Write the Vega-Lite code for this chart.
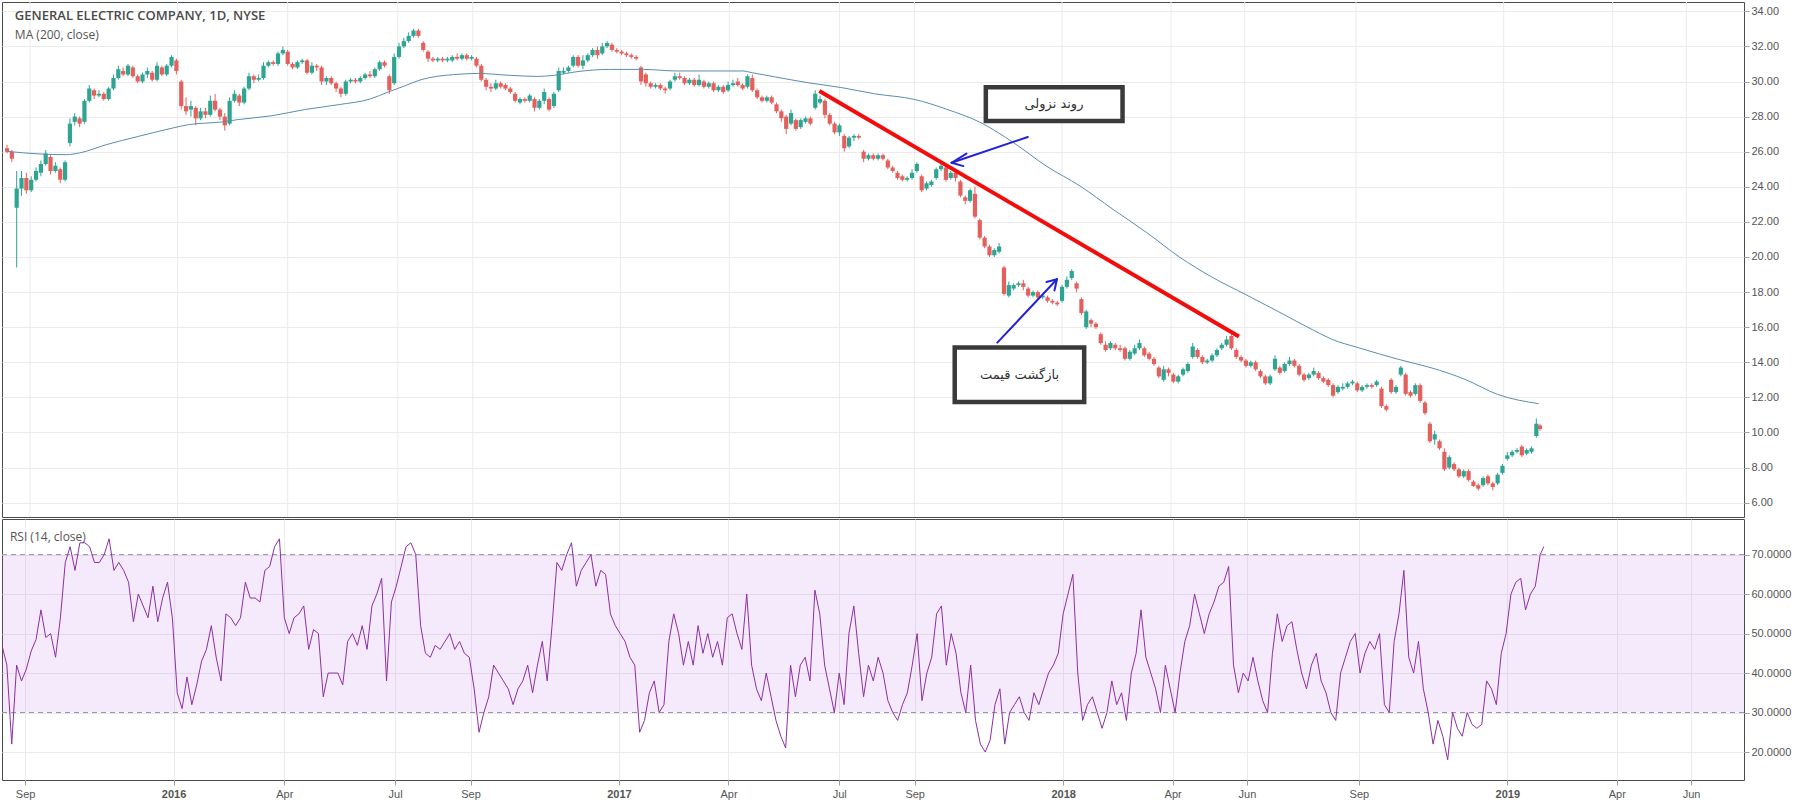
{
"$schema":"https://vega.github.io/schema/vega-lite/v6.json",
"padding":{"left":1,"top":1,"right":0,"bottom":0},
"background":"white",
"spacing":0,
"config":{"view":{"stroke":"#4a4a4a","strokeWidth":1},"axis":{"labelFont":"Liberation Sans","labelFontSize":11,"labelColor":"#555555","gridColor":"#ebebeb","tickColor":"#a0a0a0","tickSize":5,"domain":false}},
"datasets":{
"k":[
{"d":"2015-08-13","o":26.2,"h":26.4,"l":25.9,"c":26.0,"r":47},
{"d":"2015-08-17","o":26.0,"h":26.1,"l":25.4,"c":25.6,"r":42},
{"d":"2015-08-21","o":22.8,"h":24.9,"l":19.4,"c":23.9,"r":22},
{"d":"2015-08-25","o":23.9,"h":24.9,"l":23.5,"c":24.5,"r":42},
{"d":"2015-08-29","o":24.5,"h":24.8,"l":23.6,"c":23.8,"r":38},
{"d":"2015-09-02","o":23.8,"h":24.6,"l":23.7,"c":24.4,"r":41},
{"d":"2015-09-06","o":24.4,"h":25.1,"l":24.3,"c":24.9,"r":45.6},
{"d":"2015-09-10","o":24.8,"h":25.5,"l":24.6,"c":25.3,"r":48.5},
{"d":"2015-09-14","o":25.3,"h":26.1,"l":25.2,"c":25.9,"r":56},
{"d":"2015-09-18","o":25.7,"h":25.8,"l":24.7,"c":24.9,"r":49},
{"d":"2015-09-22","o":24.9,"h":25.4,"l":24.8,"c":25.2,"r":50},
{"d":"2015-09-26","o":25.0,"h":25.1,"l":24.2,"c":24.4,"r":44},
{"d":"2015-09-30","o":24.4,"h":25.5,"l":24.3,"c":25.4,"r":54},
{"d":"2015-10-04","o":26.5,"h":27.9,"l":26.3,"c":27.6,"r":68},
{"d":"2015-10-08","o":27.7,"h":28.2,"l":27.5,"c":28.0,"r":72},
{"d":"2015-10-12","o":27.9,"h":28.0,"l":27.4,"c":27.6,"r":66},
{"d":"2015-10-16","o":27.7,"h":29.0,"l":27.6,"c":28.9,"r":73},
{"d":"2015-10-20","o":28.9,"h":29.8,"l":28.8,"c":29.6,"r":73},
{"d":"2015-10-24","o":29.5,"h":29.6,"l":29.0,"c":29.2,"r":72},
{"d":"2015-10-28","o":29.2,"h":29.5,"l":29.1,"c":29.3,"r":68},
{"d":"2015-11-01","o":29.3,"h":29.4,"l":28.9,"c":29.0,"r":68},
{"d":"2015-11-05","o":29.0,"h":29.7,"l":28.9,"c":29.6,"r":70},
{"d":"2015-11-09","o":29.6,"h":30.4,"l":29.5,"c":30.2,"r":74},
{"d":"2015-11-13","o":30.2,"h":30.9,"l":30.1,"c":30.7,"r":66},
{"d":"2015-11-17","o":30.6,"h":30.8,"l":30.3,"c":30.4,"r":68},
{"d":"2015-11-21","o":30.4,"h":31.0,"l":30.3,"c":30.9,"r":66},
{"d":"2015-11-25","o":30.8,"h":30.9,"l":30.2,"c":30.3,"r":63},
{"d":"2015-11-29","o":30.3,"h":30.4,"l":29.9,"c":30.0,"r":53},
{"d":"2015-12-03","o":30.0,"h":30.5,"l":29.9,"c":30.4,"r":60},
{"d":"2015-12-07","o":30.4,"h":30.8,"l":30.2,"c":30.6,"r":57},
{"d":"2015-12-11","o":30.5,"h":30.6,"l":30.0,"c":30.1,"r":54},
{"d":"2015-12-15","o":30.1,"h":31.1,"l":30.0,"c":30.9,"r":62},
{"d":"2015-12-19","o":30.8,"h":30.9,"l":30.3,"c":30.4,"r":53},
{"d":"2015-12-23","o":30.4,"h":31.0,"l":30.3,"c":30.9,"r":59},
{"d":"2015-12-27","o":30.9,"h":31.5,"l":30.8,"c":31.4,"r":63},
{"d":"2015-12-31","o":31.2,"h":31.3,"l":30.4,"c":30.6,"r":54},
{"d":"2016-01-04","o":30.0,"h":30.1,"l":28.4,"c":28.6,"r":35},
{"d":"2016-01-08","o":28.6,"h":29.1,"l":28.1,"c":28.3,"r":31},
{"d":"2016-01-12","o":28.4,"h":28.9,"l":28.0,"c":28.6,"r":39},
{"d":"2016-01-16","o":28.5,"h":28.6,"l":27.5,"c":27.9,"r":32},
{"d":"2016-01-20","o":27.9,"h":28.5,"l":27.8,"c":28.3,"r":37},
{"d":"2016-01-24","o":28.3,"h":28.5,"l":27.9,"c":28.1,"r":43},
{"d":"2016-01-28","o":28.1,"h":29.2,"l":28.0,"c":28.9,"r":46},
{"d":"2016-02-01","o":28.9,"h":29.3,"l":28.3,"c":28.4,"r":52},
{"d":"2016-02-05","o":28.4,"h":28.5,"l":27.8,"c":28.0,"r":44},
{"d":"2016-02-09","o":28.0,"h":28.2,"l":27.2,"c":27.5,"r":38},
{"d":"2016-02-13","o":27.6,"h":29.1,"l":27.5,"c":28.9,"r":55},
{"d":"2016-02-17","o":28.9,"h":29.5,"l":28.8,"c":29.3,"r":54},
{"d":"2016-02-21","o":29.2,"h":29.3,"l":28.6,"c":28.8,"r":52},
{"d":"2016-02-25","o":28.8,"h":29.7,"l":28.7,"c":29.6,"r":54},
{"d":"2016-02-29","o":29.6,"h":30.5,"l":29.5,"c":30.3,"r":63},
{"d":"2016-03-04","o":30.3,"h":30.4,"l":29.9,"c":30.1,"r":59},
{"d":"2016-03-08","o":30.1,"h":30.4,"l":30.0,"c":30.2,"r":59},
{"d":"2016-03-12","o":30.2,"h":31.1,"l":30.1,"c":30.9,"r":58},
{"d":"2016-03-16","o":30.9,"h":31.2,"l":30.8,"c":31.1,"r":66},
{"d":"2016-03-20","o":31.1,"h":31.2,"l":30.9,"c":31.0,"r":67},
{"d":"2016-03-24","o":31.0,"h":31.7,"l":30.9,"c":31.6,"r":72},
{"d":"2016-03-28","o":31.6,"h":32.0,"l":31.5,"c":31.8,"r":74},
{"d":"2016-04-01","o":31.7,"h":31.8,"l":30.9,"c":31.0,"r":54},
{"d":"2016-04-05","o":31.0,"h":31.1,"l":30.7,"c":30.8,"r":50},
{"d":"2016-04-09","o":30.8,"h":31.2,"l":30.7,"c":31.1,"r":54},
{"d":"2016-04-13","o":31.1,"h":31.3,"l":31.0,"c":31.2,"r":55},
{"d":"2016-04-17","o":31.2,"h":31.3,"l":30.4,"c":30.5,"r":57},
{"d":"2016-04-21","o":30.5,"h":31.1,"l":30.4,"c":30.9,"r":46},
{"d":"2016-04-25","o":30.9,"h":31.0,"l":30.6,"c":30.8,"r":51},
{"d":"2016-04-29","o":30.8,"h":30.9,"l":29.8,"c":30.0,"r":50},
{"d":"2016-05-03","o":30.0,"h":30.3,"l":29.8,"c":30.2,"r":34},
{"d":"2016-05-07","o":30.2,"h":30.3,"l":29.8,"c":29.9,"r":40},
{"d":"2016-05-11","o":29.9,"h":30.0,"l":29.4,"c":29.6,"r":40},
{"d":"2016-05-15","o":29.6,"h":29.7,"l":29.1,"c":29.3,"r":40},
{"d":"2016-05-19","o":29.3,"h":30.1,"l":29.2,"c":30.0,"r":37},
{"d":"2016-05-23","o":30.0,"h":30.2,"l":29.9,"c":30.1,"r":48},
{"d":"2016-05-27","o":30.1,"h":30.2,"l":29.9,"c":30.0,"r":50},
{"d":"2016-05-31","o":30.0,"h":30.3,"l":29.9,"c":30.2,"r":47},
{"d":"2016-06-04","o":30.2,"h":30.5,"l":30.1,"c":30.4,"r":52},
{"d":"2016-06-08","o":30.4,"h":30.6,"l":30.2,"c":30.3,"r":46},
{"d":"2016-06-12","o":30.3,"h":30.8,"l":30.2,"c":30.7,"r":57},
{"d":"2016-06-16","o":30.7,"h":31.2,"l":30.6,"c":31.1,"r":60},
{"d":"2016-06-20","o":31.1,"h":31.2,"l":30.8,"c":30.9,"r":64},
{"d":"2016-06-24","o":30.3,"h":30.4,"l":29.3,"c":29.5,"r":38},
{"d":"2016-06-28","o":29.9,"h":31.6,"l":29.8,"c":31.4,"r":58},
{"d":"2016-07-02","o":31.4,"h":32.2,"l":31.3,"c":32.0,"r":62},
{"d":"2016-07-06","o":32.0,"h":32.5,"l":31.9,"c":32.3,"r":67},
{"d":"2016-07-10","o":32.3,"h":32.8,"l":32.2,"c":32.6,"r":72},
{"d":"2016-07-14","o":32.6,"h":33.0,"l":32.5,"c":32.9,"r":73},
{"d":"2016-07-18","o":32.9,"h":33.0,"l":32.5,"c":32.6,"r":70},
{"d":"2016-07-22","o":32.2,"h":32.3,"l":31.7,"c":31.8,"r":52},
{"d":"2016-07-26","o":31.7,"h":31.8,"l":31.1,"c":31.3,"r":45},
{"d":"2016-07-30","o":31.3,"h":31.4,"l":31.1,"c":31.2,"r":44},
{"d":"2016-08-03","o":31.2,"h":31.4,"l":31.1,"c":31.3,"r":47},
{"d":"2016-08-07","o":31.3,"h":31.4,"l":31.1,"c":31.2,"r":46},
{"d":"2016-08-11","o":31.2,"h":31.4,"l":31.1,"c":31.3,"r":48},
{"d":"2016-08-15","o":31.2,"h":31.5,"l":31.1,"c":31.4,"r":50},
{"d":"2016-08-19","o":31.4,"h":31.6,"l":31.2,"c":31.3,"r":46},
{"d":"2016-08-23","o":31.3,"h":31.6,"l":31.2,"c":31.5,"r":48},
{"d":"2016-08-27","o":31.5,"h":31.6,"l":31.2,"c":31.3,"r":45},
{"d":"2016-08-31","o":31.3,"h":31.5,"l":31.2,"c":31.4,"r":44},
{"d":"2016-09-04","o":31.3,"h":31.4,"l":30.8,"c":30.9,"r":36},
{"d":"2016-09-08","o":30.9,"h":31.0,"l":30.0,"c":30.1,"r":25},
{"d":"2016-09-12","o":30.1,"h":30.2,"l":29.5,"c":29.7,"r":30},
{"d":"2016-09-16","o":29.7,"h":29.9,"l":29.4,"c":29.6,"r":34},
{"d":"2016-09-20","o":29.6,"h":30.1,"l":29.5,"c":29.9,"r":42},
{"d":"2016-09-24","o":29.9,"h":30.0,"l":29.6,"c":29.7,"r":40},
{"d":"2016-09-28","o":29.8,"h":29.9,"l":29.5,"c":29.6,"r":38},
{"d":"2016-10-02","o":29.6,"h":29.7,"l":29.3,"c":29.4,"r":36},
{"d":"2016-10-06","o":29.3,"h":29.4,"l":28.8,"c":28.9,"r":32},
{"d":"2016-10-10","o":28.8,"h":29.1,"l":28.7,"c":29.0,"r":36},
{"d":"2016-10-14","o":29.0,"h":29.1,"l":28.8,"c":28.9,"r":38},
{"d":"2016-10-18","o":28.9,"h":29.3,"l":28.8,"c":29.2,"r":42},
{"d":"2016-10-22","o":29.0,"h":29.1,"l":28.3,"c":28.5,"r":35},
{"d":"2016-10-26","o":28.5,"h":29.0,"l":28.4,"c":28.9,"r":42},
{"d":"2016-10-30","o":28.9,"h":29.6,"l":28.7,"c":29.4,"r":48},
{"d":"2016-11-03","o":29.0,"h":29.1,"l":28.3,"c":28.4,"r":38},
{"d":"2016-11-07","o":28.6,"h":29.4,"l":28.5,"c":29.3,"r":52},
{"d":"2016-11-11","o":29.5,"h":30.8,"l":29.4,"c":30.6,"r":68},
{"d":"2016-11-15","o":30.5,"h":30.8,"l":30.4,"c":30.6,"r":66},
{"d":"2016-11-19","o":30.6,"h":30.9,"l":30.5,"c":30.8,"r":70},
{"d":"2016-11-23","o":30.9,"h":31.5,"l":30.8,"c":31.4,"r":73},
{"d":"2016-11-27","o":31.4,"h":31.5,"l":30.8,"c":30.9,"r":62},
{"d":"2016-12-01","o":30.9,"h":31.5,"l":30.7,"c":31.2,"r":66},
{"d":"2016-12-05","o":31.2,"h":31.6,"l":31.1,"c":31.5,"r":68},
{"d":"2016-12-09","o":31.5,"h":31.9,"l":31.4,"c":31.8,"r":70},
{"d":"2016-12-13","o":31.8,"h":32.0,"l":31.3,"c":31.5,"r":62},
{"d":"2016-12-17","o":31.6,"h":32.2,"l":31.5,"c":32.0,"r":66},
{"d":"2016-12-21","o":32.0,"h":32.3,"l":31.9,"c":32.2,"r":65},
{"d":"2016-12-25","o":32.1,"h":32.2,"l":31.7,"c":31.8,"r":55},
{"d":"2016-12-29","o":31.8,"h":31.9,"l":31.6,"c":31.7,"r":52},
{"d":"2017-01-02","o":31.7,"h":31.8,"l":31.5,"c":31.6,"r":50},
{"d":"2017-01-06","o":31.6,"h":31.7,"l":31.4,"c":31.5,"r":48},
{"d":"2017-01-10","o":31.5,"h":31.6,"l":31.3,"c":31.4,"r":44},
{"d":"2017-01-14","o":31.4,"h":31.5,"l":31.2,"c":31.3,"r":42},
{"d":"2017-01-18","o":30.8,"h":30.9,"l":29.8,"c":30.0,"r":25},
{"d":"2017-01-22","o":30.4,"h":30.5,"l":29.7,"c":29.9,"r":28},
{"d":"2017-01-26","o":29.9,"h":30.0,"l":29.6,"c":29.7,"r":35},
{"d":"2017-01-30","o":29.7,"h":29.9,"l":29.6,"c":29.8,"r":38},
{"d":"2017-02-03","o":29.8,"h":29.9,"l":29.5,"c":29.6,"r":30},
{"d":"2017-02-07","o":29.6,"h":29.7,"l":29.3,"c":29.5,"r":32},
{"d":"2017-02-11","o":29.6,"h":30.1,"l":29.5,"c":30.0,"r":48},
{"d":"2017-02-15","o":30.1,"h":30.5,"l":30.0,"c":30.3,"r":55},
{"d":"2017-02-19","o":30.3,"h":30.5,"l":30.1,"c":30.2,"r":50},
{"d":"2017-02-23","o":30.2,"h":30.3,"l":29.8,"c":29.9,"r":42},
{"d":"2017-02-27","o":29.9,"h":30.2,"l":29.8,"c":30.1,"r":48},
{"d":"2017-03-03","o":30.1,"h":30.2,"l":29.7,"c":29.8,"r":42},
{"d":"2017-03-07","o":29.8,"h":30.4,"l":29.7,"c":30.1,"r":52},
{"d":"2017-03-11","o":30.0,"h":30.1,"l":29.6,"c":29.7,"r":45},
{"d":"2017-03-15","o":29.7,"h":30.0,"l":29.6,"c":29.9,"r":50},
{"d":"2017-03-19","o":29.9,"h":30.0,"l":29.4,"c":29.5,"r":44},
{"d":"2017-03-23","o":29.5,"h":29.8,"l":29.4,"c":29.7,"r":48},
{"d":"2017-03-27","o":29.7,"h":29.8,"l":29.3,"c":29.4,"r":42},
{"d":"2017-03-31","o":29.5,"h":30.0,"l":29.4,"c":29.8,"r":54},
{"d":"2017-04-04","o":29.8,"h":30.1,"l":29.7,"c":29.9,"r":55},
{"d":"2017-04-08","o":30.0,"h":30.2,"l":29.7,"c":29.8,"r":50},
{"d":"2017-04-12","o":29.8,"h":29.9,"l":29.5,"c":29.6,"r":46},
{"d":"2017-04-16","o":29.7,"h":30.4,"l":29.6,"c":30.3,"r":60},
{"d":"2017-04-20","o":30.2,"h":30.4,"l":29.4,"c":29.5,"r":42},
{"d":"2017-04-24","o":29.5,"h":29.6,"l":29.0,"c":29.1,"r":36},
{"d":"2017-04-28","o":29.1,"h":29.2,"l":28.8,"c":28.9,"r":33},
{"d":"2017-05-02","o":28.9,"h":29.2,"l":28.8,"c":29.1,"r":40},
{"d":"2017-05-06","o":29.1,"h":29.2,"l":28.7,"c":28.8,"r":34},
{"d":"2017-05-10","o":28.7,"h":28.8,"l":28.2,"c":28.3,"r":28},
{"d":"2017-05-14","o":28.3,"h":28.4,"l":27.7,"c":27.9,"r":24},
{"d":"2017-05-18","o":28.0,"h":28.1,"l":27.0,"c":27.3,"r":21},
{"d":"2017-05-22","o":27.6,"h":28.4,"l":27.5,"c":28.2,"r":42},
{"d":"2017-05-26","o":27.8,"h":27.9,"l":27.2,"c":27.3,"r":34},
{"d":"2017-05-30","o":27.4,"h":27.9,"l":27.3,"c":27.8,"r":42},
{"d":"2017-06-03","o":27.7,"h":28.0,"l":27.6,"c":27.9,"r":44},
{"d":"2017-06-07","o":27.9,"h":28.0,"l":27.5,"c":27.6,"r":38},
{"d":"2017-06-11","o":28.5,"h":29.5,"l":28.4,"c":29.3,"r":61},
{"d":"2017-06-15","o":28.8,"h":29.2,"l":28.7,"c":29.0,"r":55},
{"d":"2017-06-19","o":28.9,"h":29.0,"l":27.9,"c":28.1,"r":42},
{"d":"2017-06-23","o":28.1,"h":28.2,"l":27.5,"c":27.6,"r":36},
{"d":"2017-06-27","o":27.6,"h":27.7,"l":27.0,"c":27.1,"r":30},
{"d":"2017-07-01","o":27.1,"h":27.6,"l":26.9,"c":27.5,"r":40},
{"d":"2017-07-05","o":26.9,"h":27.0,"l":26.0,"c":26.2,"r":32},
{"d":"2017-07-09","o":26.3,"h":26.9,"l":26.2,"c":26.8,"r":50},
{"d":"2017-07-13","o":26.8,"h":27.0,"l":26.6,"c":26.9,"r":57},
{"d":"2017-07-17","o":26.9,"h":27.0,"l":26.7,"c":26.8,"r":45},
{"d":"2017-07-21","o":26.0,"h":26.1,"l":25.4,"c":25.6,"r":34},
{"d":"2017-07-25","o":25.6,"h":25.9,"l":25.5,"c":25.8,"r":42},
{"d":"2017-07-29","o":25.8,"h":25.9,"l":25.5,"c":25.6,"r":38},
{"d":"2017-08-02","o":25.6,"h":25.9,"l":25.5,"c":25.8,"r":44},
{"d":"2017-08-06","o":25.8,"h":25.9,"l":25.5,"c":25.6,"r":40},
{"d":"2017-08-10","o":25.5,"h":25.6,"l":25.0,"c":25.1,"r":33},
{"d":"2017-08-14","o":25.1,"h":25.2,"l":24.8,"c":24.9,"r":30},
{"d":"2017-08-18","o":24.8,"h":24.9,"l":24.4,"c":24.5,"r":28},
{"d":"2017-08-22","o":24.6,"h":24.7,"l":24.3,"c":24.4,"r":32},
{"d":"2017-08-26","o":24.4,"h":24.6,"l":24.3,"c":24.5,"r":35},
{"d":"2017-08-30","o":24.5,"h":25.0,"l":24.4,"c":24.8,"r":42},
{"d":"2017-09-03","o":24.9,"h":25.4,"l":24.8,"c":25.3,"r":50},
{"d":"2017-09-07","o":24.6,"h":24.7,"l":23.7,"c":23.8,"r":33},
{"d":"2017-09-11","o":23.9,"h":24.3,"l":23.8,"c":24.2,"r":40},
{"d":"2017-09-15","o":24.1,"h":24.4,"l":24.0,"c":24.3,"r":44},
{"d":"2017-09-19","o":24.5,"h":25.1,"l":24.4,"c":25.0,"r":55},
{"d":"2017-09-23","o":25.0,"h":25.3,"l":24.9,"c":25.2,"r":57},
{"d":"2017-09-27","o":25.1,"h":25.2,"l":24.3,"c":24.4,"r":42},
{"d":"2017-10-01","o":24.5,"h":24.9,"l":24.4,"c":24.8,"r":50},
{"d":"2017-10-05","o":24.8,"h":24.9,"l":24.3,"c":24.5,"r":45},
{"d":"2017-10-09","o":24.3,"h":24.4,"l":23.4,"c":23.5,"r":35},
{"d":"2017-10-13","o":23.4,"h":23.5,"l":23.0,"c":23.2,"r":30},
{"d":"2017-10-17","o":23.2,"h":23.9,"l":23.1,"c":23.8,"r":42},
{"d":"2017-10-21","o":23.6,"h":24.0,"l":22.2,"c":22.3,"r":28},
{"d":"2017-10-25","o":22.1,"h":22.2,"l":21.0,"c":21.1,"r":22},
{"d":"2017-10-29","o":21.1,"h":21.2,"l":20.5,"c":20.6,"r":20},
{"d":"2017-11-02","o":20.6,"h":20.7,"l":20.0,"c":20.1,"r":23},
{"d":"2017-11-06","o":20.1,"h":20.5,"l":20.0,"c":20.4,"r":32},
{"d":"2017-11-10","o":20.3,"h":20.8,"l":20.2,"c":20.6,"r":36},
{"d":"2017-11-14","o":19.4,"h":19.5,"l":17.8,"c":17.9,"r":22},
{"d":"2017-11-18","o":17.8,"h":18.6,"l":17.7,"c":18.4,"r":30},
{"d":"2017-11-22","o":18.2,"h":18.5,"l":18.1,"c":18.4,"r":32},
{"d":"2017-11-26","o":18.4,"h":18.6,"l":18.3,"c":18.5,"r":34},
{"d":"2017-11-30","o":18.5,"h":18.7,"l":18.1,"c":18.3,"r":30},
{"d":"2017-12-04","o":18.2,"h":18.3,"l":17.7,"c":17.8,"r":28},
{"d":"2017-12-08","o":17.8,"h":18.1,"l":17.7,"c":18.0,"r":35},
{"d":"2017-12-12","o":18.0,"h":18.1,"l":17.6,"c":17.7,"r":32},
{"d":"2017-12-16","o":17.7,"h":17.9,"l":17.6,"c":17.8,"r":36},
{"d":"2017-12-20","o":17.7,"h":17.8,"l":17.4,"c":17.5,"r":40},
{"d":"2017-12-24","o":17.5,"h":17.6,"l":17.3,"c":17.4,"r":42},
{"d":"2017-12-28","o":17.4,"h":17.5,"l":17.2,"c":17.3,"r":45},
{"d":"2018-01-01","o":17.5,"h":18.4,"l":17.4,"c":18.3,"r":55},
{"d":"2018-01-05","o":18.3,"h":18.9,"l":18.2,"c":18.7,"r":60},
{"d":"2018-01-09","o":18.8,"h":19.3,"l":18.7,"c":19.2,"r":65},
{"d":"2018-01-13","o":18.5,"h":18.6,"l":18.0,"c":18.2,"r":40},
{"d":"2018-01-17","o":17.6,"h":17.7,"l":16.7,"c":16.8,"r":28},
{"d":"2018-01-21","o":16.0,"h":17.0,"l":15.9,"c":16.9,"r":32},
{"d":"2018-01-25","o":16.4,"h":16.5,"l":16.0,"c":16.2,"r":34},
{"d":"2018-01-29","o":16.2,"h":16.3,"l":15.9,"c":16.0,"r":30},
{"d":"2018-02-02","o":15.6,"h":15.7,"l":15.0,"c":15.1,"r":26},
{"d":"2018-02-06","o":15.0,"h":15.2,"l":14.6,"c":14.7,"r":30},
{"d":"2018-02-10","o":14.8,"h":15.2,"l":14.7,"c":15.1,"r":38},
{"d":"2018-02-14","o":15.0,"h":15.1,"l":14.7,"c":14.8,"r":32},
{"d":"2018-02-18","o":14.8,"h":15.0,"l":14.6,"c":14.7,"r":35},
{"d":"2018-02-22","o":14.8,"h":14.9,"l":14.1,"c":14.2,"r":28},
{"d":"2018-02-26","o":14.2,"h":14.7,"l":14.1,"c":14.6,"r":40},
{"d":"2018-03-02","o":14.5,"h":15.0,"l":14.4,"c":14.8,"r":45},
{"d":"2018-03-06","o":14.8,"h":15.3,"l":14.7,"c":15.1,"r":56},
{"d":"2018-03-10","o":14.8,"h":14.9,"l":14.3,"c":14.4,"r":44},
{"d":"2018-03-14","o":14.5,"h":14.6,"l":14.1,"c":14.2,"r":40},
{"d":"2018-03-18","o":14.2,"h":14.3,"l":13.8,"c":13.9,"r":36},
{"d":"2018-03-22","o":13.7,"h":13.8,"l":13.1,"c":13.2,"r":30},
{"d":"2018-03-26","o":13.0,"h":13.8,"l":12.9,"c":13.6,"r":42},
{"d":"2018-03-30","o":13.6,"h":13.7,"l":13.2,"c":13.4,"r":36},
{"d":"2018-04-03","o":13.3,"h":13.4,"l":12.8,"c":12.9,"r":30},
{"d":"2018-04-07","o":12.9,"h":13.3,"l":12.8,"c":13.2,"r":40},
{"d":"2018-04-11","o":13.3,"h":13.7,"l":13.2,"c":13.6,"r":48},
{"d":"2018-04-15","o":13.5,"h":14.0,"l":13.4,"c":13.9,"r":52},
{"d":"2018-04-19","o":14.3,"h":15.1,"l":14.2,"c":14.9,"r":60},
{"d":"2018-04-23","o":14.7,"h":14.8,"l":14.2,"c":14.3,"r":55},
{"d":"2018-04-27","o":14.3,"h":14.4,"l":13.9,"c":14.0,"r":50},
{"d":"2018-05-01","o":14.0,"h":14.2,"l":13.9,"c":14.1,"r":55},
{"d":"2018-05-05","o":14.1,"h":14.5,"l":14.0,"c":14.4,"r":58},
{"d":"2018-05-09","o":14.4,"h":14.8,"l":14.3,"c":14.7,"r":62},
{"d":"2018-05-13","o":14.8,"h":15.1,"l":14.7,"c":15.0,"r":63},
{"d":"2018-05-17","o":15.0,"h":15.5,"l":14.9,"c":15.3,"r":67},
{"d":"2018-05-21","o":15.5,"h":15.6,"l":14.7,"c":14.8,"r":42},
{"d":"2018-05-25","o":14.7,"h":14.8,"l":14.2,"c":14.3,"r":35},
{"d":"2018-05-29","o":14.3,"h":14.4,"l":14.0,"c":14.1,"r":40},
{"d":"2018-06-02","o":14.1,"h":14.2,"l":13.7,"c":13.8,"r":38},
{"d":"2018-06-06","o":13.8,"h":14.1,"l":13.7,"c":14.0,"r":44},
{"d":"2018-06-10","o":14.0,"h":14.1,"l":13.5,"c":13.6,"r":38},
{"d":"2018-06-14","o":13.5,"h":13.6,"l":13.1,"c":13.2,"r":33},
{"d":"2018-06-18","o":13.2,"h":13.3,"l":12.7,"c":12.8,"r":30},
{"d":"2018-06-22","o":12.8,"h":13.3,"l":12.7,"c":13.2,"r":45},
{"d":"2018-06-26","o":13.6,"h":14.4,"l":13.5,"c":14.2,"r":55},
{"d":"2018-06-30","o":13.7,"h":13.8,"l":13.3,"c":13.4,"r":48},
{"d":"2018-07-04","o":13.5,"h":14.0,"l":13.4,"c":13.9,"r":52},
{"d":"2018-07-08","o":13.9,"h":14.3,"l":13.8,"c":14.1,"r":53},
{"d":"2018-07-12","o":14.1,"h":14.2,"l":13.7,"c":13.8,"r":46},
{"d":"2018-07-16","o":13.8,"h":13.9,"l":13.2,"c":13.3,"r":40},
{"d":"2018-07-20","o":13.3,"h":13.4,"l":12.9,"c":13.0,"r":36},
{"d":"2018-07-24","o":13.1,"h":13.4,"l":13.0,"c":13.3,"r":42},
{"d":"2018-07-28","o":13.3,"h":13.7,"l":13.2,"c":13.5,"r":45},
{"d":"2018-08-01","o":13.4,"h":13.5,"l":13.0,"c":13.1,"r":38},
{"d":"2018-08-05","o":13.1,"h":13.2,"l":12.8,"c":12.9,"r":35},
{"d":"2018-08-09","o":13.0,"h":13.1,"l":12.6,"c":12.7,"r":30},
{"d":"2018-08-13","o":12.7,"h":12.8,"l":12.0,"c":12.1,"r":28},
{"d":"2018-08-17","o":12.3,"h":12.7,"l":12.2,"c":12.6,"r":40},
{"d":"2018-08-21","o":12.5,"h":12.8,"l":12.4,"c":12.6,"r":44},
{"d":"2018-08-25","o":12.6,"h":12.9,"l":12.5,"c":12.8,"r":48},
{"d":"2018-08-29","o":12.8,"h":13.0,"l":12.7,"c":12.9,"r":50},
{"d":"2018-09-02","o":12.8,"h":12.9,"l":12.3,"c":12.4,"r":40},
{"d":"2018-09-06","o":12.4,"h":12.7,"l":12.3,"c":12.6,"r":45},
{"d":"2018-09-10","o":12.6,"h":12.8,"l":12.5,"c":12.7,"r":48},
{"d":"2018-09-14","o":12.7,"h":12.8,"l":12.5,"c":12.6,"r":46},
{"d":"2018-09-18","o":12.7,"h":13.0,"l":12.6,"c":12.9,"r":50},
{"d":"2018-09-22","o":12.5,"h":12.6,"l":11.4,"c":11.5,"r":32},
{"d":"2018-09-26","o":11.5,"h":11.6,"l":11.2,"c":11.3,"r":30},
{"d":"2018-09-30","o":13.0,"h":13.1,"l":12.2,"c":12.3,"r":48},
{"d":"2018-10-04","o":12.3,"h":12.7,"l":12.2,"c":12.6,"r":55},
{"d":"2018-10-08","o":13.3,"h":13.8,"l":13.2,"c":13.7,"r":66},
{"d":"2018-10-12","o":13.3,"h":13.4,"l":12.1,"c":12.2,"r":44},
{"d":"2018-10-16","o":12.3,"h":12.4,"l":12.0,"c":12.1,"r":40},
{"d":"2018-10-20","o":12.2,"h":12.8,"l":12.1,"c":12.7,"r":48},
{"d":"2018-10-24","o":12.7,"h":12.8,"l":11.7,"c":11.8,"r":36},
{"d":"2018-10-28","o":11.7,"h":11.8,"l":11.0,"c":11.1,"r":30},
{"d":"2018-11-01","o":10.5,"h":10.6,"l":9.4,"c":9.5,"r":22},
{"d":"2018-11-05","o":9.6,"h":10.1,"l":9.3,"c":9.9,"r":28},
{"d":"2018-11-09","o":9.5,"h":9.6,"l":9.0,"c":9.1,"r":24},
{"d":"2018-11-13","o":8.9,"h":9.1,"l":7.8,"c":7.9,"r":18},
{"d":"2018-11-17","o":8.0,"h":8.7,"l":7.9,"c":8.6,"r":30},
{"d":"2018-11-21","o":8.2,"h":8.3,"l":7.8,"c":7.9,"r":26},
{"d":"2018-11-25","o":7.9,"h":8.0,"l":7.4,"c":7.5,"r":24},
{"d":"2018-11-29","o":7.5,"h":7.9,"l":7.4,"c":7.8,"r":30},
{"d":"2018-12-03","o":7.8,"h":7.9,"l":7.2,"c":7.3,"r":27},
{"d":"2018-12-07","o":7.2,"h":7.3,"l":6.9,"c":6.95,"r":26},
{"d":"2018-12-11","o":7.0,"h":7.1,"l":6.7,"c":6.8,"r":27},
{"d":"2018-12-15","o":7.0,"h":7.5,"l":6.9,"c":7.4,"r":38},
{"d":"2018-12-19","o":7.5,"h":7.6,"l":7.0,"c":7.1,"r":36},
{"d":"2018-12-23","o":7.1,"h":7.2,"l":6.7,"c":6.9,"r":32},
{"d":"2018-12-27","o":7.1,"h":7.7,"l":7.0,"c":7.6,"r":45},
{"d":"2018-12-31","o":7.7,"h":8.2,"l":7.6,"c":8.1,"r":50},
{"d":"2019-01-04","o":8.5,"h":8.9,"l":8.4,"c":8.7,"r":60},
{"d":"2019-01-08","o":8.7,"h":9.0,"l":8.6,"c":8.9,"r":63},
{"d":"2019-01-12","o":8.9,"h":9.1,"l":8.8,"c":9.0,"r":64},
{"d":"2019-01-16","o":9.2,"h":9.3,"l":8.6,"c":8.7,"r":56},
{"d":"2019-01-20","o":8.8,"h":9.1,"l":8.7,"c":9.0,"r":60},
{"d":"2019-01-24","o":8.9,"h":9.2,"l":8.8,"c":9.1,"r":62},
{"d":"2019-01-28","o":9.8,"h":10.8,"l":9.7,"c":10.5,"r":70},
{"d":"2019-01-31","o":10.4,"h":10.5,"l":10.1,"c":10.2,"r":72}
],
"ma":[
{"d":"2015-08-13","p":26.02},{"d":"2015-09-09","p":25.87},{"d":"2015-10-01","p":25.83},{"d":"2015-10-12","p":25.93},{"d":"2015-11-03","p":26.4},{"d":"2015-11-30","p":26.88},{"d":"2015-12-28","p":27.35},{"d":"2016-01-10","p":27.54},{"d":"2016-02-07","p":27.7},{"d":"2016-02-20","p":27.83},{"d":"2016-03-19","p":28.05},{"d":"2016-04-15","p":28.4},{"d":"2016-05-13","p":28.68},{"d":"2016-06-09","p":29.02},{"d":"2016-06-23","p":29.4},{"d":"2016-07-06","p":29.73},{"d":"2016-07-20","p":30.1},{"d":"2016-08-03","p":30.3},{"d":"2016-08-16","p":30.39},{"d":"2016-09-05","p":30.46},{"d":"2016-10-02","p":30.35},{"d":"2016-10-24","p":30.29},{"d":"2016-11-07","p":30.35},{"d":"2016-11-26","p":30.56},{"d":"2016-12-23","p":30.69},{"d":"2017-01-20","p":30.69},{"d":"2017-02-16","p":30.6},{"d":"2017-03-15","p":30.6},{"d":"2017-04-12","p":30.6},{"d":"2017-04-20","p":30.5},{"d":"2017-05-09","p":30.26},{"d":"2017-06-05","p":29.93},{"d":"2017-07-03","p":29.65},{"d":"2017-07-30","p":29.3},{"d":"2017-09-01","p":28.98},{"d":"2017-09-28","p":28.41},{"d":"2017-10-26","p":27.65},{"d":"2017-11-22","p":26.51},{"d":"2017-12-19","p":25.18},{"d":"2018-01-16","p":24.04},{"d":"2018-02-12","p":22.72},{"d":"2018-03-12","p":21.39},{"d":"2018-04-08","p":20.0},{"d":"2018-05-05","p":18.85},{"d":"2018-06-02","p":17.85},{"d":"2018-06-29","p":16.88},{"d":"2018-07-28","p":15.82},{"d":"2018-08-12","p":15.31},{"d":"2018-09-03","p":14.83},{"d":"2018-10-06","p":14.17},{"d":"2018-11-02","p":13.69},{"d":"2018-11-30","p":13.03},{"d":"2018-12-27","p":12.17},{"d":"2019-01-30","p":11.64}
],
"grid":[
{"d":"2015-09-01","p":5.185,"p2":34.53},{"d":"2016-01-01","p":5.185,"p2":34.53},{"d":"2016-04-01","p":5.185,"p2":34.53},{"d":"2016-07-01","p":5.185,"p2":34.53},{"d":"2016-09-01","p":5.185,"p2":34.53},{"d":"2017-01-01","p":5.185,"p2":34.53},{"d":"2017-04-01","p":5.185,"p2":34.53},{"d":"2017-07-01","p":5.185,"p2":34.53},{"d":"2017-09-01","p":5.185,"p2":34.53},{"d":"2018-01-01","p":5.185,"p2":34.53},{"d":"2018-04-01","p":5.185,"p2":34.53},{"d":"2018-06-01","p":5.185,"p2":34.53},{"d":"2018-09-01","p":5.185,"p2":34.53},{"d":"2019-01-01","p":5.185,"p2":34.53},{"d":"2019-04-01","p":5.185,"p2":34.53},{"d":"2019-06-01","p":5.185,"p2":34.53}
]
},
"vconcat":[
{
"width":1742,"height":515,
"encoding":{
"x":{"field":"d","type":"temporal","title":null,"scale":{"type":"utc","domain":[{"year":2015,"month":8,"date":13,"utc":true},{"year":2019,"month":7,"date":14,"hours":12,"utc":true}]},"axis":null},
"y":{"field":"p","type":"quantitative","title":null,"scale":{"domain":[5.185,34.53],"nice":false,"zero":false},"axis":{"orient":"right","values":[6,8,10,12,14,16,18,20,22,24,26,28,30,32,34],"format":".2f","grid":true,"title":null}}
},
"layer":[
{"data":{"name":"grid"},"mark":{"type":"rule","color":"#ebebeb","strokeWidth":1},"encoding":{"y2":{"field":"p2"}}},
{"data":{"name":"k"},"mark":{"type":"rule","strokeWidth":1,"clip":true},
"encoding":{"y":{"field":"l","type":"quantitative","title":null,"scale":{"domain":[5.185,34.53],"nice":false,"zero":false}},"y2":{"field":"h"},
"color":{"condition":{"test":"datum.c >= datum.o","value":"#2ea493"},"value":"#e4605d"}}},
{"data":{"name":"k"},"mark":{"type":"bar","width":4.2,"clip":true},
"encoding":{"y":{"field":"o","type":"quantitative","title":null,"scale":{"domain":[5.185,34.53],"nice":false,"zero":false}},"y2":{"field":"c"},
"color":{"condition":{"test":"datum.c >= datum.o","value":"#2ea493"},"value":"#e4605d"}}},
{"data":{"name":"ma"},"mark":{"type":"line","color":"#5a8db0","strokeWidth":1,"clip":true,"interpolate":"monotone"},"encoding":{}},
{"data":{"values":[{"d":"2017-06-14T10:00:00Z","p":29.46,"d2":"2018-05-27T05:00:00Z","p2":15.47}],"format":{"parse":{"d":"date","d2":"date"}}},
"mark":{"type":"rule","color":"#f20d0d","strokeWidth":4},
"encoding":{"x2":{"field":"d2"},"y2":{"field":"p2"}}},
{"data":{"values":[
{"d":"2017-12-03T17:00:00Z","p":26.84,"d2":"2017-10-01T17:00:00Z","p2":25.37},
{"d":"2017-10-01T17:00:00Z","p":25.37,"d2":"2017-10-14T00:00:00Z","p2":25.89},
{"d":"2017-10-01T17:00:00Z","p":25.37,"d2":"2017-10-11T12:00:00Z","p2":25.18},
{"d":"2017-11-08T12:00:00Z","p":15.12,"d2":"2017-12-27T19:00:00Z","p2":18.73},
{"d":"2017-12-27T19:00:00Z","p":18.73,"d2":"2017-12-19T02:00:00Z","p2":18.58},
{"d":"2017-12-27T19:00:00Z","p":18.73,"d2":"2017-12-25T17:00:00Z","p2":18.09}
],"format":{"parse":{"d":"date","d2":"date"}}},
"mark":{"type":"rule","color":"#2222d6","strokeWidth":2,"strokeCap":"round"},
"encoding":{"x2":{"field":"d2"},"y2":{"field":"p2"}}},
{"data":{"values":[
{"d":"2017-10-30T00:00:00Z","p":29.67,"d2":"2018-02-20T00:00:00Z","p2":27.75},
{"d":"2017-10-04T07:00:00Z","p":14.84,"d2":"2018-01-19T07:00:00Z","p2":11.735}
],"format":{"parse":{"d":"date","d2":"date"}}},
"mark":{"type":"rect","fill":"#ffffff","stroke":"#3a3a3a","strokeWidth":4.5},
"encoding":{"x2":{"field":"d2"},"y2":{"field":"p2"}}},
{"data":{"values":[
{"d":"2017-12-25T07:00:00Z","p":28.72,"t":"روند نزولی"},
{"d":"2017-11-26T21:00:00Z","p":13.29,"t":"بازگشت قیمت"}
],"format":{"parse":{"d":"date"}}},
"mark":{"type":"text","font":"DejaVu Sans","fontSize":13,"color":"#333333","align":"center","baseline":"middle"},
"encoding":{"text":{"field":"t"}}},
{"data":{"values":[{"d":"2015-08-19T12:00:00Z","p":33.73,"t":"GENERAL ELECTRIC COMPANY, 1D, NYSE"}],"format":{"parse":{"d":"date"}}},
"mark":{"type":"text","font":"Open Sans","fontSize":13,"fontWeight":600,"color":"#4a4a4a","align":"left","baseline":"middle"},
"encoding":{"text":{"field":"t"}}},
{"data":{"values":[{"d":"2015-08-19T12:00:00Z","p":32.65,"t":"MA (200, close)"}],"format":{"parse":{"d":"date"}}},
"mark":{"type":"text","font":"Open Sans","fontSize":12,"color":"#555555","align":"left","baseline":"middle"},
"encoding":{"text":{"field":"t"}}}
]
},
{
"width":1742,"height":261,
"encoding":{
"x":{"field":"d","type":"temporal","title":null,"scale":{"type":"utc","domain":[{"year":2015,"month":8,"date":13,"utc":true},{"year":2019,"month":7,"date":14,"hours":12,"utc":true}]},
"axis":{"values":[{"year":2015,"month":9,"date":1,"utc":true},{"year":2016,"month":1,"date":1,"utc":true},{"year":2016,"month":4,"date":1,"utc":true},{"year":2016,"month":7,"date":1,"utc":true},{"year":2016,"month":9,"date":1,"utc":true},{"year":2017,"month":1,"date":1,"utc":true},{"year":2017,"month":4,"date":1,"utc":true},{"year":2017,"month":7,"date":1,"utc":true},{"year":2017,"month":9,"date":1,"utc":true},{"year":2018,"month":1,"date":1,"utc":true},{"year":2018,"month":4,"date":1,"utc":true},{"year":2018,"month":6,"date":1,"utc":true},{"year":2018,"month":9,"date":1,"utc":true},{"year":2019,"month":1,"date":1,"utc":true},{"year":2019,"month":4,"date":1,"utc":true},{"year":2019,"month":6,"date":1,"utc":true}],
"labelExpr":"utcFormat(datum.value, utcmonth(datum.value) == 0 ? '%Y' : '%b')",
"labelFontWeight":{"condition":{"test":"utcmonth(datum.value) == 0","value":"bold"},"value":"normal"},
"grid":true,"ticks":true,"domain":false,"labelPadding":3,"title":null}},
"y":{"field":"r","type":"quantitative","title":null,"scale":{"domain":[12.91,79.02],"nice":false,"zero":false},"axis":{"orient":"right","values":[20,30,40,50,60,70],"format":".4f","grid":true,"title":null}}
},
"layer":[
{"data":{"values":[{"d":"2015-08-13T00:00:00Z","d2":"2019-07-14T12:00:00Z","a":30,"b":70}],"format":{"parse":{"d":"date","d2":"date"}}},
"mark":{"type":"rect","fill":"#a64fe8","fillOpacity":0.12},
"encoding":{"x2":{"field":"d2"},"y":{"field":"a","type":"quantitative","title":null,"scale":{"domain":[12.91,79.02],"nice":false,"zero":false}},"y2":{"field":"b"}}},
{"data":{"values":[{"d":"2015-08-13T00:00:00Z","d2":"2019-07-14T12:00:00Z","a":30},{"d":"2015-08-13T00:00:00Z","d2":"2019-07-14T12:00:00Z","a":70}],"format":{"parse":{"d":"date","d2":"date"}}},
"mark":{"type":"rule","color":"#9a90a8","strokeWidth":1,"strokeDash":[5,4]},
"encoding":{"x2":{"field":"d2"},"y":{"field":"a","type":"quantitative","title":null,"scale":{"domain":[12.91,79.02],"nice":false,"zero":false}}}},
{"data":{"name":"k"},"mark":{"type":"line","color":"#8e2ea6","strokeWidth":1,"clip":true},"encoding":{}},
{"data":{"values":[{"d":"2015-08-19T12:00:00Z","r":74.46,"t":"RSI (14, close)"}],"format":{"parse":{"d":"date"}}},
"mark":{"type":"text","font":"Open Sans","fontSize":12,"color":"#555555","align":"left","baseline":"middle"},
"encoding":{"text":{"field":"t"}}}
]
}
]
}
